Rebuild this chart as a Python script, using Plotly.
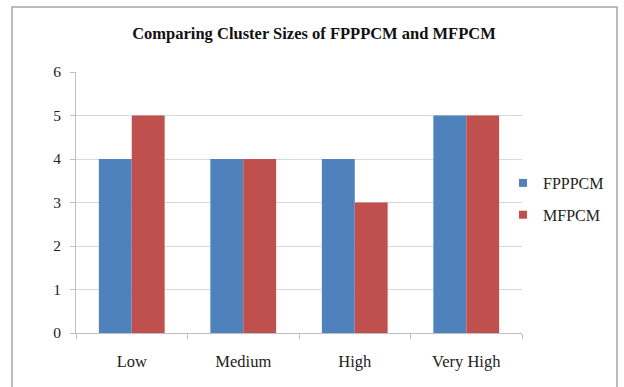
import plotly.graph_objects as go

categories = ["Low", "Medium", "High", "Very High"]
fpppcm = [4, 4, 4, 5]
mfpcm = [5, 4, 3, 5]
series_names = ["FPPPCM", "MFPCM"]
series_colors = ["#4F81BD", "#C0504D"]
title_text = "Comparing Cluster Sizes of FPPPCM and MFPCM"

FONT = "Liberation Serif, Times New Roman, serif"
L, R, T, B = 76, 102, 72, 54
W, H = 624, 387
pw = W - L - R
ph = H - T - B

def px_x(x):
    return (x - L) / pw

def px_y(y):
    return (H - B - y) / ph

fig = go.Figure()
for name, vals, col in zip(series_names, [fpppcm, mfpcm], series_colors):
    fig.add_trace(go.Bar(name=name, x=categories, y=vals, marker_color=col,
                         marker_line_width=0, showlegend=False))
for i, (name, col) in enumerate(zip(series_names, series_colors)):
    fig.add_trace(go.Scatter(name=name, x=[None], y=[None], mode="markers",
                             marker=dict(symbol="square", size=8, color=col),
                             legendgroup=name, showlegend=True))

fig.update_layout(
    width=W, height=H,
    margin=dict(l=L, r=R, t=T, b=B),
    paper_bgcolor="white", plot_bgcolor="white",
    barmode="group", bargap=0.41, bargroupgap=0,
    font=dict(family=FONT, size=16, color="#222"),
    title=dict(text="<b>" + title_text + "</b>", x=px_x(314), xref="paper", xanchor="center",
               y=1 - 33 / H, yanchor="middle", font=dict(family=FONT, size=16.5, color="#111")),
    legend=dict(x=px_x(503), y=px_y(166), xanchor="left", yanchor="top",
                traceorder="grouped", tracegroupgap=8,
                font=dict(family=FONT, size=16, color="#222"),
                itemwidth=30, bgcolor="rgba(0,0,0,0)"),
    showlegend=True,
)
fig.update_xaxes(showline=True, linecolor="#BFBFBF", linewidth=1,
                 ticks="outside", tickson="boundaries", ticklen=5, tickcolor="#BFBFBF",
                 ticklabelstandoff=13,
                 tickfont=dict(family=FONT, size=16.5, color="#222"), showgrid=False)
fig.update_yaxes(range=[0, 6], dtick=1, showline=True, linecolor="#BFBFBF", linewidth=1,
                 ticks="outside", ticklen=5, tickcolor="#BFBFBF", ticklabelstandoff=6,
                 showgrid=True, gridcolor="#D9D9D9", gridwidth=1, zeroline=False,
                 tickfont=dict(family=FONT, size=15.5, color="#222"))

fig.add_shape(type="rect", xref="paper", yref="paper",
              x0=px_x(12), x1=px_x(617), y0=px_y(395), y1=px_y(7),
              line=dict(color="#A6A6A6", width=1.5), fillcolor="rgba(0,0,0,0)", layer="below")

fig.write_html("out.html", config={"displayModeBar": False},
               post_script="document.body.style.margin='0';")
